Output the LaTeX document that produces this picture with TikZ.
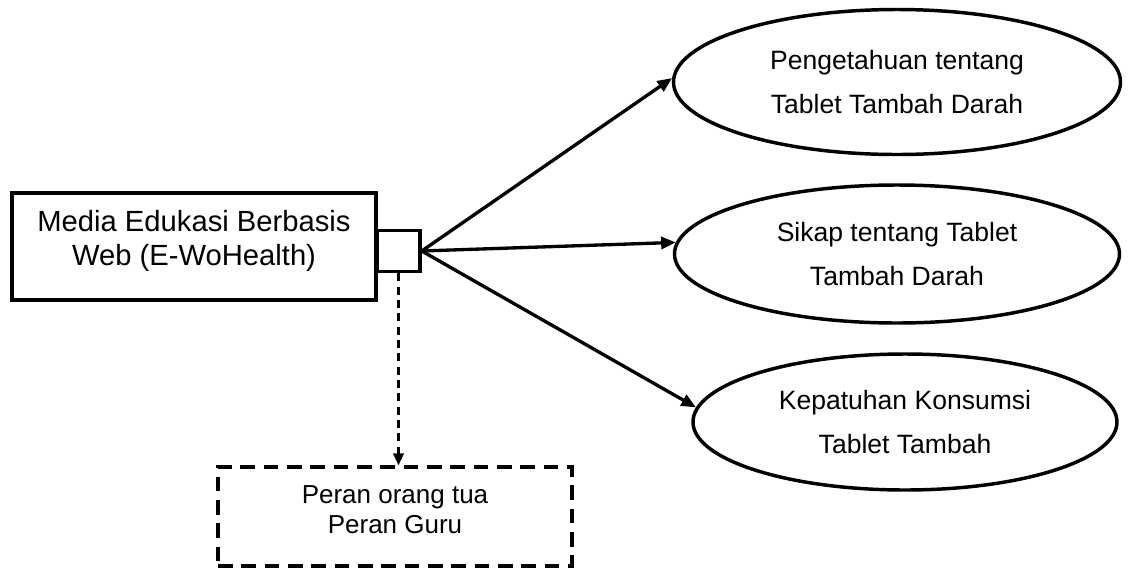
\documentclass[tikz,border=0pt]{standalone}
\usepackage{fontspec}
\setmainfont{Liberation Sans}
\usetikzlibrary{shapes.geometric,arrows.meta}
\begin{document}
\begin{tikzpicture}[x=0.75pt,y=-0.75pt,
  boxstyle/.style={draw,line width=2.6pt,inner sep=0pt},
  ovalstyle/.style={draw,ellipse,line width=2.6pt,inner sep=0pt,align=center,
     font=\fontsize{19.9}{33}\selectfont},
  conn/.style={line width=2.5pt,-{Triangle[length=11pt,width=9pt]}},
  dconn/.style={line width=1.6pt,dash pattern=on 6pt off 4pt,-{Triangle[length=9pt,width=8pt]}},
  dbox/.style={draw,line width=2.6pt,dash pattern=on 11pt off 6.5pt,inner sep=0pt}]
\useasboundingbox (0,0) rectangle (1129,568);
% main box
\node[boxstyle,minimum width=364*0.75pt,minimum height=107*0.75pt] (main) at (194,246.5) {};
\node[align=center,font=\fontsize{21.9}{25}\selectfont] (maintext) at (194,241) {Media Edukasi Berbasis\\Web (E-WoHealth)};
% small box
\node[boxstyle,minimum width=43*0.75pt,minimum height=41*0.75pt] (sb) at (398.5,251) {};
\coordinate (hub) at (sb.east);
% ellipses
\node[ovalstyle,minimum width=447*0.75pt,minimum height=145*0.75pt] (e1) at (897,82) {Pengetahuan tentang\\Tablet Tambah Darah};
\node[ovalstyle,minimum width=445*0.75pt,minimum height=138*0.75pt] (e2) at (897,254) {Sikap tentang Tablet\\Tambah Darah};
\node[ovalstyle,minimum width=424*0.75pt,minimum height=136*0.75pt] (e3) at (905,422) {Kepatuhan Konsumsi\\Tablet Tambah};
% dashed box
\node[dbox,minimum width=354*0.75pt,minimum height=99*0.75pt] (db) at (395,516.5) {};
\node[align=center,font=\fontsize{19.5}{22.5}\selectfont] (dbtext) at (395,510) {Peran orang tua\\Peran Guru};
% connectors
\draw[conn] (hub) -- (e1.179);
\draw[conn] (hub) -- (e2.177.7);
\draw[conn] (hub) -- (e3.176.8);
\draw[dconn] (sb.south) -- (sb.south |- db.north);
\end{tikzpicture}
\end{document}
